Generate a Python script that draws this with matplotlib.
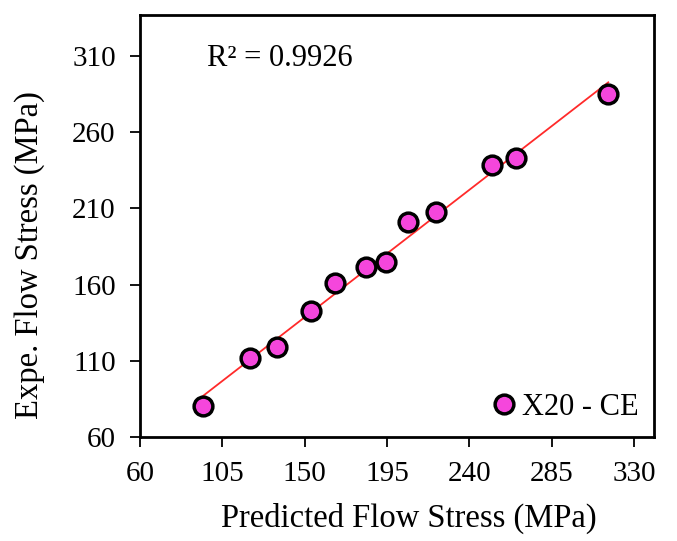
import numpy as np
import matplotlib
matplotlib.use("Agg")
import matplotlib.pyplot as plt

predicted = [94.5, 120.3, 135.1, 153.6, 166.4, 183.5, 194.3, 206.4, 221.7, 252.6, 265.7, 316.0]
experimental = [80.4, 112.0, 118.9, 142.5, 160.8, 171.8, 175.1, 200.9, 207.7, 238.4, 243.2, 285.1]
x_ticks = [60, 105, 150, 195, 240, 285, 330]
y_ticks = [60, 110, 160, 210, 260, 310]
series_label = "X20 - CE"
r2_text = "R² = 0.9926"

plt.rcParams['font.family'] = ['Liberation Serif', 'DejaVu Serif']

fig = plt.figure(figsize=(6.77, 5.41), dpi=100)
ax = fig.add_axes([140/677, 104/541, 514/677, 422/541])

coef = np.polyfit(predicted, experimental, 1)
xl = np.array([min(predicted), max(predicted)])
ax.plot(xl, np.polyval(coef, xl), color='#FF2A2A', lw=1.3, zorder=2)

ax.plot(predicted, experimental, 'o', ms=13.5, mfc='#F546DC', mec='black', mew=2.5,
        ls='none', label=series_label, zorder=3)

ax.set_xlim(60, 341)
ax.set_ylim(60, 337)
ax.set_xticks(x_ticks)
ax.set_yticks(y_ticks)
ax.tick_params(direction='out', length=7.5, width=1.3, labelsize=21, pad=10, colors='black')
for s in ax.spines.values():
    s.set_linewidth(2)
    s.set_color('black')

ax.set_xlabel("Predicted Flow Stress (MPa)", fontsize=23.5)
ax.set_ylabel("Expe. Flow Stress (MPa)", fontsize=23.5)
ax.xaxis.set_label_coords(0.523, -0.156)
ax.yaxis.set_label_coords(-0.185, 0.431)

ax.text(0.13, 0.898, r2_text, transform=ax.transAxes, fontsize=22, va='center', ha='left')

leg = ax.legend(loc='lower right', frameon=False, fontsize=22, handletextpad=0.0,
                borderaxespad=0.2, handlelength=1.2, borderpad=0.3)

fig.savefig("out.png", dpi=100)
